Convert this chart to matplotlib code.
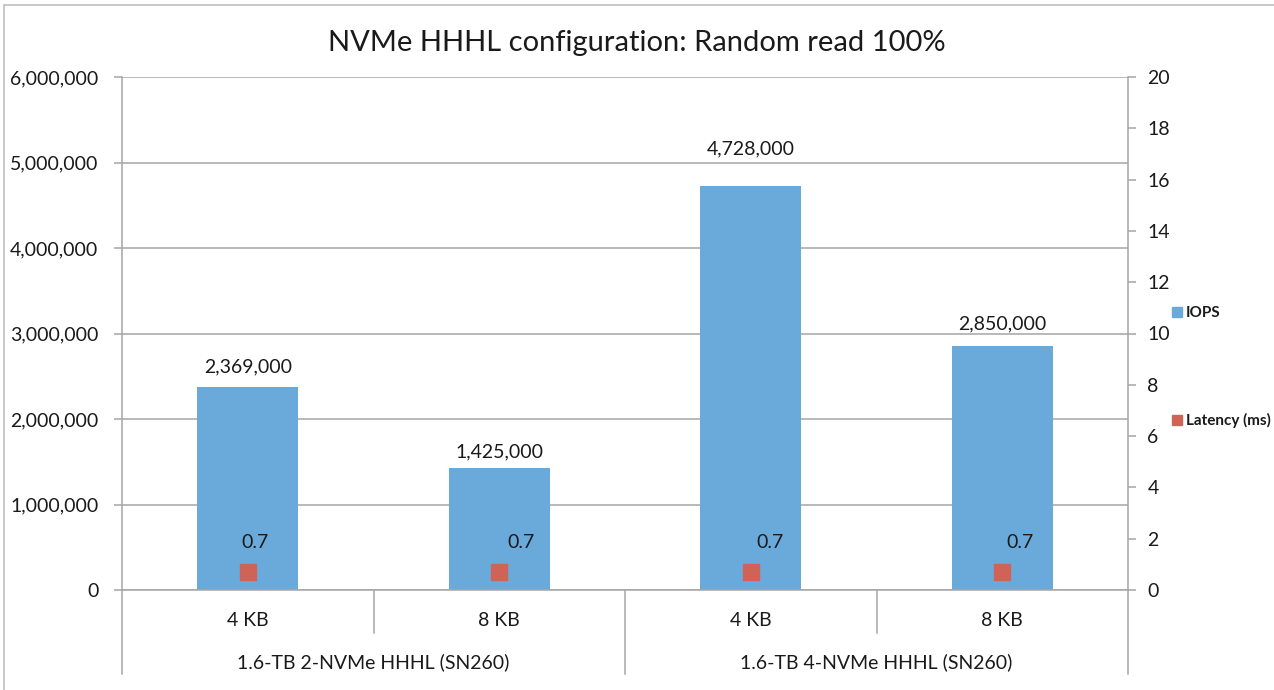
import matplotlib
matplotlib.use("Agg")
import matplotlib.pyplot as plt
from matplotlib.lines import Line2D
from matplotlib.patches import Rectangle
from matplotlib.ticker import FuncFormatter, MultipleLocator
import matplotlib.transforms as mtransforms

plt.rcParams['font.family'] = ['Lato', 'DejaVu Sans']

# ---- data ----
title = "NVMe HHHL configuration: Random read 100%"
block_sizes = ["4 KB", "8 KB", "4 KB", "8 KB"]
groups = ["1.6-TB 2-NVMe HHHL (SN260)", "1.6-TB 4-NVMe HHHL (SN260)"]
iops = [2369000, 1425000, 4728000, 2850000]
latency_ms = [0.7, 0.7, 0.7, 0.7]
iops_label = "IOPS"
latency_label = "Latency (ms)"

# ---- style ----
W, H = 1274, 690
DPI = 100
BAR_COLOR = "#6AAADB"
MARK_COLOR = "#CF6357"
GRID = "#A6A6A6"
TEXT = "#1a1a1a"
FS = 14

fig = plt.figure(figsize=(W / DPI, H / DPI), dpi=DPI)
fig.patch.set_facecolor("white")

# outer border
fig.add_artist(Rectangle((4 / W, -0.01), 1.02, (H - 5) / H + 0.01, transform=fig.transFigure,
                         fill=False, edgecolor="#BFBFBF", linewidth=1.2))

left_px, right_px, top_px, bottom_px = 122, 1128, 77, 590
ax = fig.add_axes([left_px / W, (H - bottom_px) / H,
                   (right_px - left_px) / W, (bottom_px - top_px) / H])
ax2 = ax.twinx()

x = list(range(len(iops)))
bars = ax.bar(x, iops, width=0.40, color=BAR_COLOR, zorder=2)
ax.set_xlim(-0.5, len(iops) - 0.5)
ax.set_ylim(0, 6000000)
ax.yaxis.set_major_locator(MultipleLocator(1000000))
ax.yaxis.set_major_formatter(FuncFormatter(lambda v, p: f"{int(v):,}"))
ax.grid(axis="y", color=GRID, linewidth=1.1, zorder=0)
ax.set_axisbelow(True)

for s in ["top", "right"]:
    ax.spines[s].set_visible(False)
ax.spines["left"].set_color(GRID)
ax.spines["left"].set_linewidth(1.1)
ax.spines["bottom"].set_color(GRID)
ax.spines["bottom"].set_linewidth(1.1)
ax.tick_params(axis="y", direction="out", length=6, width=1.1, color=GRID,
               labelsize=FS, labelcolor=TEXT, pad=11)
ax.set_xticks(x)
ax.set_xticklabels(block_sizes)
ax.tick_params(axis="x", length=0, labelsize=FS, labelcolor=TEXT, pad=16)

bar_label_dy = [15, 11.5, 26.5, 16.5]
for b, v, dy in zip(bars, iops, bar_label_dy):
    ax.annotate(f"{v:,}", (b.get_x() + b.get_width() / 2, v), xytext=(0, dy),
                textcoords="offset points", ha="center", va="center",
                fontsize=FS, color=TEXT)

# latency on secondary axis
ax2.plot(x, latency_ms, linestyle="none", marker="s", markersize=12,
         color=MARK_COLOR, zorder=3)
ax2.set_ylim(0, 20)
ax2.yaxis.set_major_locator(MultipleLocator(2))
for s in ["top", "left", "bottom"]:
    ax2.spines[s].set_visible(False)
ax2.spines["right"].set_color(GRID)
ax2.spines["right"].set_linewidth(1.1)
ax2.spines["right"].set_bounds(0, 20)
ax2.tick_params(axis="y", direction="out", length=6, width=1.1, color=GRID,
                labelsize=FS, labelcolor=TEXT, pad=8)
label_dx = [5, 16, 14, 13]
for xi, v, dx in zip(x, latency_ms, label_dx):
    ax2.annotate(f"{v}", (xi, v), xytext=(dx, 21), textcoords="offset points",
                 ha="center", va="center", fontsize=FS, color=TEXT)

# category separators below the axis
trans = mtransforms.blended_transform_factory(ax.transData, ax.transAxes)
ax_h_px = bottom_px - top_px
short = -(633 - bottom_px) / ax_h_px
long_ = -(674 - bottom_px) / ax_h_px
n_per_group = len(block_sizes) // len(groups)
for k in range(len(block_sizes) + 1):
    xb = k - 0.5
    y_end = long_ if k % n_per_group == 0 else short
    ax.add_line(Line2D([xb, xb], [0, y_end], transform=trans, color=GRID,
                       linewidth=1.1, clip_on=False))
for gi, g in enumerate(groups):
    xc = gi * n_per_group + (n_per_group - 1) / 2
    ax.text(xc, -(662 - bottom_px) / ax_h_px, g, transform=trans, ha="center",
            va="center", fontsize=FS, color=TEXT)

fig.text(0.5, (H - 43) / H, title, ha="center", va="center", fontsize=21, color=TEXT)

# legend
handles = [Line2D([], [], linestyle="none", marker="s", markersize=7, color=BAR_COLOR),
           Line2D([], [], linestyle="none", marker="s", markersize=7, color=MARK_COLOR)]
leg = fig.legend(handles, [iops_label, latency_label], loc="upper left",
                 bbox_to_anchor=(1172 / W, (H - 306) / H), frameon=False,
                 prop={"weight": "bold", "size": 11}, labelspacing=6.1,
                 handlelength=0.6, handletextpad=0.3, borderpad=0, borderaxespad=0)
for t in leg.get_texts():
    t.set_color(TEXT)

fig.savefig("out.png", dpi=DPI, facecolor="white")
